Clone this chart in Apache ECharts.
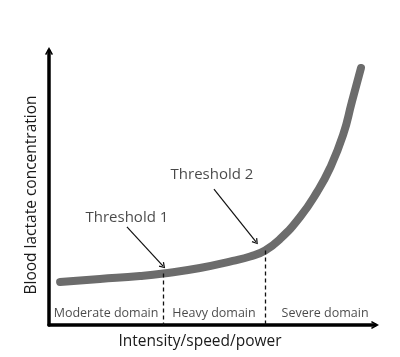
<!DOCTYPE html>
<html><head><meta charset="utf-8">
<script src="https://cdn.jsdelivr.net/npm/echarts@6/dist/echarts.min.js"></script>
<style>html,body{margin:0;padding:0;background:#fff}#c{width:400px;height:357px}</style>
</head><body><div id="c"></div>
<script>
// Curve (arbitrary units, axes 0..100)
const curveX = [3.4, 15.6, 27.9, 35, 46.3, 56.4, 61.7, 66.3, 70.9, 77, 82.2, 86.2, 90.2, 92.9, 95.7];
const curveY = [15.7, 16.8, 17.9, 18.8, 20.8, 23.4, 25.0, 27.2, 31.4, 39.4, 48.5, 57.3, 69.3, 81.4, 93.8];
// Thresholds: [x, y on curve]
const thresholdNames = ['Threshold 1', 'Threshold 2'];
const thresholdPts = [[35, 18.8], [66.3, 27.2]];
const arrowStarts = [[23.9, 35.8], [50.6, 49.6]];
const arrowEnds = [[35, 21.5], [63.5, 30.3]];
const thresholdLabelPos = [[23.9, 39.1], [50, 54.7]];
// Domains
const domainNames = ['Moderate domain', 'Heavy domain', 'Severe domain'];
const domainX = [17.5, 50.6, 84.7];
const domainY = 4.4;
const xTitle = 'Intensity/speed/power';
const yTitle = 'Blood lactate concentration';

const chev = 'path://M0,9 L5,0 L10,9 L8.4,10 L5,3.6 L1.6,10 Z';
const chart = echarts.init(document.getElementById('c'), null, {renderer: 'canvas'});
const font = '"Open Sans", sans-serif';

const markData = [];
thresholdPts.forEach(p => {
  markData.push([{coord: [p[0], p[1]], symbol: 'none', lineStyle: {type: [4, 3], width: 1.3, color: '#111'}},
                 {coord: [p[0], 0], symbol: 'none'}]);
});
arrowStarts.forEach((s, i) => {
  markData.push([{coord: s, symbol: 'none', lineStyle: {type: 'solid', width: 1.2, color: '#111'}},
                 {coord: arrowEnds[i], symbol: chev, symbolSize: [7, 6]}]);
});

const labelData = [];
thresholdNames.forEach((n, i) => labelData.push({value: thresholdLabelPos[i], name: n, label: {fontSize: 15}}));
domainNames.forEach((n, i) => labelData.push({value: [domainX[i], domainY], name: n, label: {fontSize: 12.5}}));

chart.setOption({
  animation: false,
  backgroundColor: '#fff',
  grid: {left: 49, right: 25, top: 51, bottom: 32},
  xAxis: {
    type: 'value', min: 0, max: 100,
    axisLine: {show: true, onZero: false, symbol: ['none', chev], symbolSize: [13, 8],
      lineStyle: {color: '#000', width: 3.5}},
    axisTick: {show: false}, axisLabel: {show: false}, splitLine: {show: false},
    name: xTitle, nameLocation: 'middle', nameGap: 9,
    nameTextStyle: {fontFamily: font, fontSize: 15.5, color: '#1a1a1a', padding: [0, 24, 0, 0]}
  },
  yAxis: {
    type: 'value', min: 0, max: 100,
    axisLine: {show: true, onZero: false, symbol: ['none', chev], symbolSize: [13, 8],
      lineStyle: {color: '#000', width: 3.5}},
    axisTick: {show: false}, axisLabel: {show: false}, splitLine: {show: false},
    name: yTitle, nameLocation: 'middle', nameGap: 9,
    nameTextStyle: {fontFamily: font, fontSize: 15.5, color: '#1a1a1a', padding: [0, 14, 0, 0]}
  },
  series: [
    {
      type: 'line', data: curveX.map((x, i) => [x, curveY[i]]), smooth: 0.5, symbol: 'none',
      lineStyle: {color: '#6c6c6c', width: 8, cap: 'round'},
      markLine: {silent: true, symbol: 'none', label: {show: false}, data: markData, animation: false},
      z: 3
    },
    {
      type: 'scatter', symbolSize: 0, data: labelData, silent: true,
      label: {show: true, position: 'inside', fontFamily: font, color: '#1a1a1a', formatter: p => p.name}
    }
  ]
});
</script></body></html>
